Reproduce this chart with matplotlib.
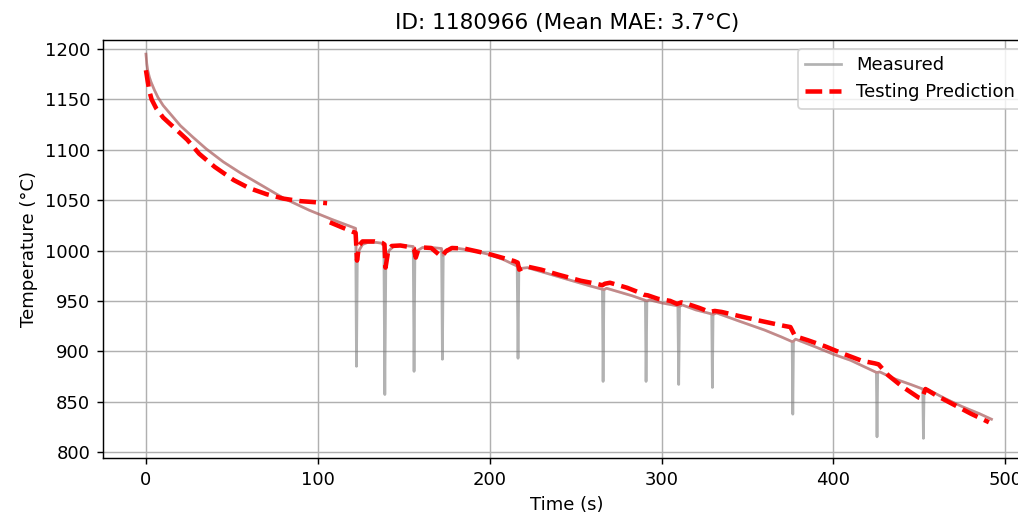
import numpy as np
import matplotlib
matplotlib.use("Agg")
import matplotlib.pyplot as plt

# ---------------- data ----------------
# smooth envelope of the measured temperature
env_t = [0, 0.5, 1, 2, 3, 5, 7, 10, 14, 20, 27, 35, 45, 55, 65, 80, 95, 108, 122,
         123.0, 124, 126, 129, 134, 138.4,
         139.6, 141.5, 144, 150, 155.5,
         156.5, 158, 161, 166, 172.0,
         173.0, 175, 180, 190, 200, 208, 216.0,
         217.0, 222, 230, 240, 250, 258, 265.6,
         266.5, 268, 275, 283, 290.6,
         291.5, 293, 300, 309.5,
         310.5, 312, 320, 329.2,
         330.0, 332, 345, 360, 370, 376.0,
         376.8, 378, 390, 400, 410, 420, 425.0,
         425.8, 427, 435, 445, 452.0,
         452.8, 455, 465, 475, 485, 492]
env_T = [1195, 1185, 1179, 1172, 1167, 1159, 1152, 1144, 1136, 1124, 1113, 1101, 1088, 1077, 1067, 1052, 1040, 1031, 1022,
         992, 1000, 1006, 1008, 1008, 1007,
         990, 1000, 1004, 1005, 1004,
         993, 1000, 1003, 1003, 1002,
         995, 1001, 1002.5, 1000, 996, 991, 984.5,
         982, 983, 979, 974, 969, 965, 961.5,
         961, 962.5, 959, 955, 950.5,
         950, 951, 948, 945,
         944.5, 946, 941, 937,
         936.5, 938, 930, 921, 914, 909.5,
         910, 912, 904, 897, 891, 883, 879,
         879, 879.5, 873, 867, 862.5,
         862, 862, 853, 845, 838, 832.5]

# short downward spikes in the measured signal
spike_t = [122.5, 139.0, 156.0, 172.5, 216.5, 266.0, 291.0, 310.0, 329.6, 376.4, 425.4, 452.4]
spike_T = [885, 857, 880, 892, 893, 870, 870, 867, 864, 837.5, 815, 813.5]

# testing prediction (NaN = gap)
pred_t = [0, 1, 2, 3.3, 6, 10, 17, 24, 31, 40, 51, 60, 70, 80, 90, 98, 105.4,
          106.0,
          107.0, 114, 122.0, 122.8, 124, 126, 133, 137.5, 138.8,
          139.4, 141, 143, 148, 155, 155.9,
          157, 158.5, 161, 166, 171.5, 172.3,
          174.4, 178, 185, 193, 200.7, 208, 214.3, 216.3,
          217.2, 219, 222, 230, 240, 253, 262, 265.6,
          267, 270, 280, 286, 290, 292, 298, 305, 309, 311.6, 315, 322, 328, 331, 335,
          345, 358, 371.8, 375, 377.7, 385, 395, 405, 416.6, 424, 426.3,
          432, 440, 449.6, 451.5, 453.6, 460, 470, 480, 490.5]
pred_T = [1179, 1168, 1158, 1150, 1141, 1132, 1121, 1110, 1096, 1083, 1070, 1062, 1056, 1051.5, 1049, 1048, 1047,
          np.nan,
          1028, 1023, 1017.5, 990, 1005, 1009, 1009, 1007.5, 1006,
          983, 1000, 1004.5, 1005, 1003, 1002,
          993, 1001, 1003, 1002.5, 994.5, 994,
          999, 1002.5, 1002, 999, 996, 992.5, 989.5, 988,
          981, 982.5, 984, 981, 976, 970, 967, 965.5,
          967, 968, 963, 959, 956, 955.5, 952, 950, 947, 948.5, 947, 943, 939, 940, 939,
          935, 930, 925, 924, 915, 911, 905, 898, 890.5, 888, 887,
          876, 865, 854, 853, 862.5, 856, 847, 838, 829.5]

title = "ID: 1180966 (Mean MAE: 3.7°C)"

# ---------------- build measured series ----------------
meas_t = list(env_t) + list(spike_t)
meas_T = list(env_T) + list(spike_T)
order = np.argsort(meas_t, kind="stable")
meas_t = np.asarray(meas_t)[order]
meas_T = np.asarray(meas_T)[order]

# ---------------- plot ----------------
DPI = 130
fig = plt.figure(figsize=(1018 / DPI, 521 / DPI), dpi=DPI)
ax = fig.add_axes([103 / 1018, 63 / 521, (1031 - 103) / 1018, (481 - 63) / 521])

ax.plot(meas_t, meas_T, color="gray", alpha=0.6, lw=1.5, label="Measured", zorder=2)
ax.plot(env_t, env_T, color="red", alpha=0.22, lw=1.5, zorder=2.1)
ax.plot(pred_t, pred_T, color="red", ls="--", lw=2.5, label="Testing Prediction", zorder=3)

ax.set_xlim(-25, 515)
ax.set_ylim(794, 1209)
ax.set_xticks([0, 100, 200, 300, 400, 500])
ax.set_yticks(np.arange(800, 1201, 50))
ax.grid(True)
ax.set_axisbelow(True)
ax.set_xlabel("Time (s)")
ax.set_ylabel("Temperature (°C)")
ax.set_title(title)
ax.legend(loc="upper right")

fig.savefig("out.png", dpi=DPI)
